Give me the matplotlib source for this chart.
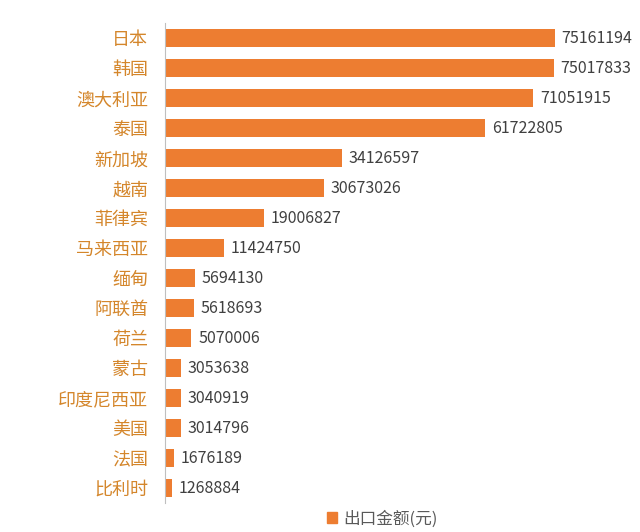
import matplotlib
matplotlib.use('Agg')
import matplotlib.pyplot as plt
from matplotlib.patches import Patch

plt.rcParams['font.family'] = ['Noto Sans CJK SC', 'DejaVu Sans']

# Export value by destination country (yuan)
countries = ['日本', '韩国', '澳大利亚', '泰国', '新加坡', '越南', '菲律宾', '马来西亚',
             '缅甸', '阿联酋', '荷兰', '蒙古', '印度尼西亚', '美国', '法国', '比利时']
values = [75161194, 75017833, 71051915, 61722805, 34126597, 30673026, 19006827, 11424750,
          5694130, 5618693, 5070006, 3053638, 3040919, 3014796, 1676189, 1268884]
series_name = '出口金额(元)'

bar_color = '#ED7D31'

fig = plt.figure(figsize=(6.4, 5.32), dpi=100)
ax = fig.add_axes([0.2578, 0.0545, 0.648, 0.902])

pos = list(range(len(countries)))
ax.barh(pos, values, height=0.6, color=bar_color)
ax.set_ylim(len(countries) - 0.5, -0.5)
ax.set_xlim(0, 80000000)

for p, v in zip(pos, values):
    ax.text(v + 1300000, p, str(v), va='center', ha='left', fontsize=11.5, color='#404040')

ax.set_yticks(pos)
ax.set_yticklabels(countries, fontsize=13, color='#D4862B')
ax.tick_params(axis='y', length=0, pad=12)
ax.set_xticks([])
for s in ['top', 'right', 'bottom']:
    ax.spines[s].set_visible(False)
ax.spines['left'].set_color('#BFBFBF')

fig.legend(handles=[Patch(color=bar_color, label=series_name)], loc='center',
           bbox_to_anchor=(0.597, 0.025), frameon=False, fontsize=12,
           handlelength=0.6, handleheight=0.6, handletextpad=0.4, labelcolor='#595959')

fig.savefig('out.png', dpi=100)
